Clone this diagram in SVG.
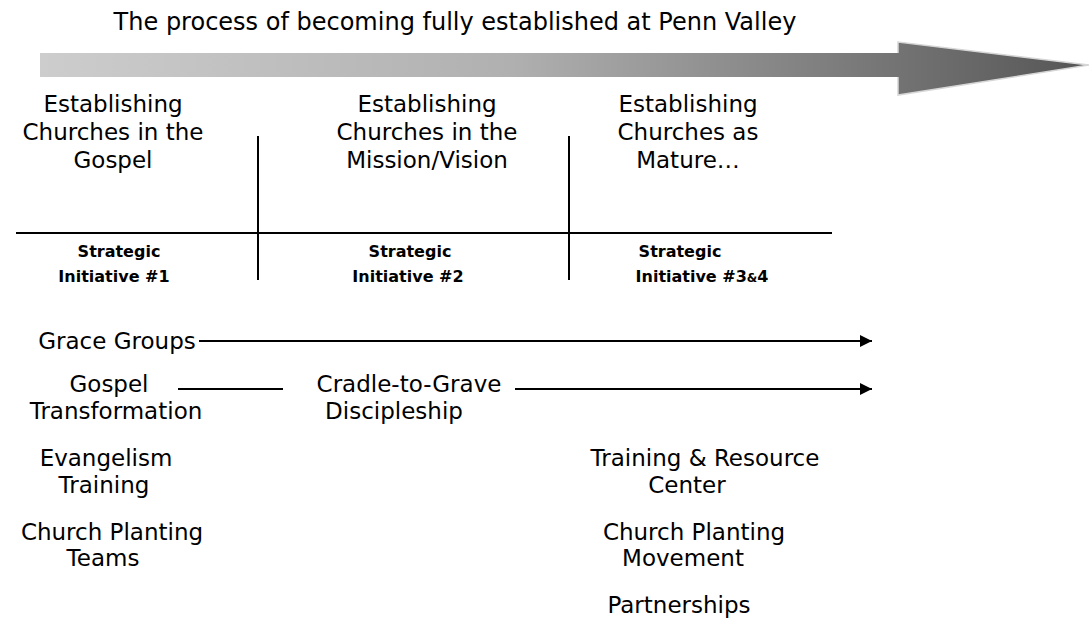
<svg xmlns="http://www.w3.org/2000/svg" width="1089" height="618" viewBox="0 0 1089 618">
  <style>
    text { font-family: "DejaVu Sans", "Liberation Sans", sans-serif; fill: #000; text-anchor: middle; }
    .title { font-size: 24px; }
    .head { font-size: 23px; }
    .body { font-size: 23px; }
    .init { font-size: 16px; font-weight: bold; }
    .rule { stroke: #000; stroke-width: 2; fill: none; }
    .flow { stroke: #000; stroke-width: 2; fill: none; }
  </style>
  <defs>
    <linearGradient id="progress" gradientUnits="userSpaceOnUse" x1="40" y1="0" x2="1089" y2="0">
      <stop offset="0" stop-color="#cdcdcd"/>
      <stop offset="0.45" stop-color="#b0b0b0"/>
      <stop offset="1" stop-color="#555555"/>
    </linearGradient>
    <marker id="tip" viewBox="0 0 10 10" refX="10" refY="5" markerWidth="8" markerHeight="6" markerUnits="strokeWidth" orient="auto">
      <path d="M0,0 L10,5 L0,10 Z" fill="#000"/>
    </marker>
  </defs>

  <!-- timeline banner -->
  <g id="banner">
    <text class="title" x="455" y="30">The process of becoming fully established at Penn Valley</text>
    <polygon points="40,53 898,53 898,42 1089,65 898,95 898,77 40,77" fill="url(#progress)"/>
    <polyline points="898,53 898,42 1089,65 898,95 898,77" fill="none" stroke="#d6d6d6" stroke-width="1.5"/>
  </g>

  <!-- column grid -->
  <g id="grid">
    <line class="rule" x1="16" y1="233" x2="832" y2="233"/>
    <line class="rule" x1="258" y1="136" x2="258" y2="280"/>
    <line class="rule" x1="569" y1="136" x2="569" y2="280"/>
  </g>

  <!-- stage headings -->
  <g id="stage1">
    <text class="head" x="113" y="112">Establishing</text>
    <text class="head" x="113" y="140">Churches in the</text>
    <text class="head" x="113" y="168">Gospel</text>
  </g>
  <g id="stage2">
    <text class="head" x="427" y="112">Establishing</text>
    <text class="head" x="427" y="140">Churches in the</text>
    <text class="head" x="427" y="168">Mission/Vision</text>
  </g>
  <g id="stage3">
    <text class="head" x="688" y="112">Establishing</text>
    <text class="head" x="688" y="140">Churches as</text>
    <text class="head" x="688" y="168">Mature…</text>
  </g>

  <!-- strategic initiatives -->
  <g id="initiative1">
    <text class="init" x="119" y="257">Strategic</text>
    <text class="init" x="114" y="282">Initiative #1</text>
  </g>
  <g id="initiative2">
    <text class="init" x="410" y="257">Strategic</text>
    <text class="init" x="408" y="282">Initiative #2</text>
  </g>
  <g id="initiative3">
    <text class="init" x="680" y="257">Strategic</text>
    <text class="init" x="702" y="282">Initiative #3<tspan font-size="12">&amp;</tspan>4</text>
  </g>

  <!-- ministries -->
  <g id="grace-groups">
    <text class="body" x="117" y="349">Grace Groups</text>
  </g>
  <g id="gospel-transformation">
    <text class="body" x="109" y="392">Gospel</text>
    <text class="body" x="116" y="419">Transformation</text>
  </g>
  <g id="cradle-to-grave">
    <text class="body" x="409" y="392">Cradle-to-Grave</text>
    <text class="body" x="394" y="419">Discipleship</text>
  </g>
  <g id="evangelism-training">
    <text class="body" x="106" y="466">Evangelism</text>
    <text class="body" x="104" y="493">Training</text>
  </g>
  <g id="church-planting-teams">
    <text class="body" x="112" y="540">Church Planting</text>
    <text class="body" x="103" y="566">Teams</text>
  </g>
  <g id="training-resource">
    <text class="body" x="705" y="466">Training &amp; Resource</text>
    <text class="body" x="687" y="493">Center</text>
  </g>
  <g id="church-planting-movement">
    <text class="body" x="694" y="540">Church Planting</text>
    <text class="body" x="683" y="566">Movement</text>
  </g>
  <g id="partnerships">
    <text class="body" x="679" y="613">Partnerships</text>
  </g>

  <!-- connectors -->
  <g id="connectors">
    <line class="flow" x1="199" y1="341" x2="872" y2="341" marker-end="url(#tip)"/>
    <line class="flow" x1="178" y1="389" x2="283" y2="389"/>
    <line class="flow" x1="515" y1="389" x2="872" y2="389" marker-end="url(#tip)"/>
  </g>
</svg>
